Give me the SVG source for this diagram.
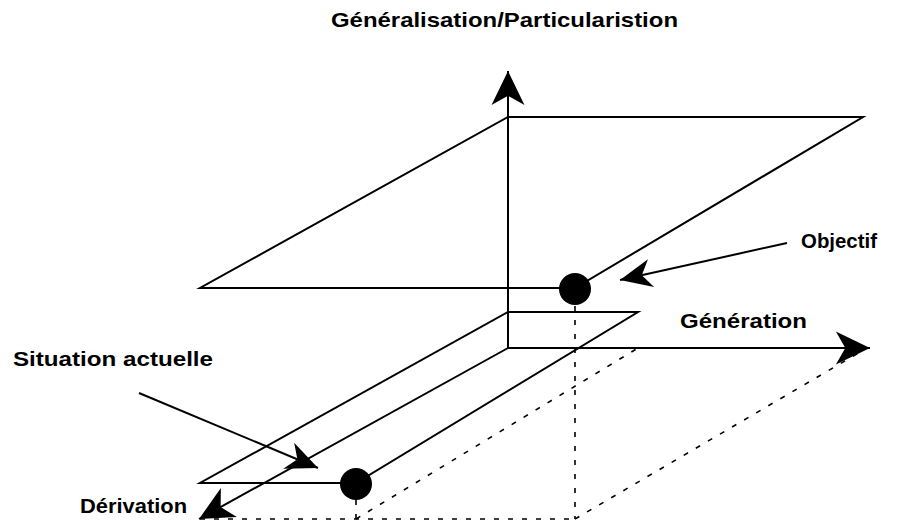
<svg xmlns="http://www.w3.org/2000/svg" width="898" height="523" viewBox="0 0 898 523">
  <defs>
    <marker id="ah" markerUnits="userSpaceOnUse" markerWidth="40" markerHeight="40" viewBox="-32 -16 34 32" refX="0" refY="0" orient="auto">
      <path d="M0,0 L-29,-14 L-21,0 L-29,14 Z" fill="#000"/>
    </marker>
    <marker id="ahs" markerUnits="userSpaceOnUse" markerWidth="40" markerHeight="40" viewBox="-32 -16 34 32" refX="0" refY="0" orient="auto">
      <path d="M0,0 L-27,-12 L-19,0 L-27,12 Z" fill="#000"/>
    </marker>
  </defs>
  <style>
    .ln { stroke:#000; stroke-width:2; fill:none; stroke-linejoin:miter; }
    .ds { stroke:#000; stroke-width:1.6; fill:none; stroke-dasharray:5 9; }
    .lb { font-family:"Liberation Sans", Arial, sans-serif; font-weight:bold; font-size:21px; fill:#000; }
    .dot { fill:#000; }
  </style>
  <rect width="898" height="523" fill="#fff"/>

  <g id="connectors">
    <!-- dashed projections -->
    <line class="ds" x1="200" y1="519" x2="575" y2="519"/>
    <line class="ds" x1="575" y1="519" x2="867" y2="348"/>
    <line class="ds" x1="356" y1="519" x2="638" y2="348"/>
    <line class="ds" x1="575" y1="306" x2="575" y2="519"/>
    <line class="ds" x1="356" y1="500" x2="356" y2="519"/>
    <!-- axes -->
    <line id="axis-gen-part" class="ln" x1="508" y1="348" x2="508" y2="71" marker-end="url(#ah)"/>
    <line id="axis-generation" class="ln" x1="508" y1="348" x2="870" y2="348" marker-end="url(#ah)"/>
    <line id="axis-derivation" class="ln" x1="508" y1="348" x2="199" y2="519" marker-end="url(#ah)"/>
    <!-- pointer arrows -->
    <line class="ln" x1="787" y1="243" x2="620" y2="280" marker-end="url(#ahs)"/>
    <line class="ln" x1="139" y1="393" x2="318" y2="468" marker-end="url(#ahs)"/>
  </g>

  <g id="plan-haut">
    <polygon class="ln" points="200,288 575,288 863,117 508,117"/>
  </g>
  <g id="plan-bas">
    <polygon class="ln" points="200,483 356,483 638,312 508,312"/>
  </g>

  <g id="objectif-point">
    <circle class="dot" cx="575" cy="289" r="16"/>
  </g>
  <g id="situation-point">
    <circle class="dot" cx="356" cy="484" r="16"/>
  </g>

  <g id="labels">
    <text class="lb" x="331" y="27" font-size="20" textLength="347" lengthAdjust="spacingAndGlyphs">Généralisation/Particularistion</text>
    <text class="lb" x="801" y="248" textLength="76" lengthAdjust="spacingAndGlyphs">Objectif</text>
    <text class="lb" x="680" y="328" textLength="127" lengthAdjust="spacingAndGlyphs">Génération</text>
    <text class="lb" x="13" y="366" textLength="200" lengthAdjust="spacingAndGlyphs">Situation actuelle</text>
    <text class="lb" x="80" y="513" textLength="107" lengthAdjust="spacingAndGlyphs">Dérivation</text>
  </g>
</svg>
